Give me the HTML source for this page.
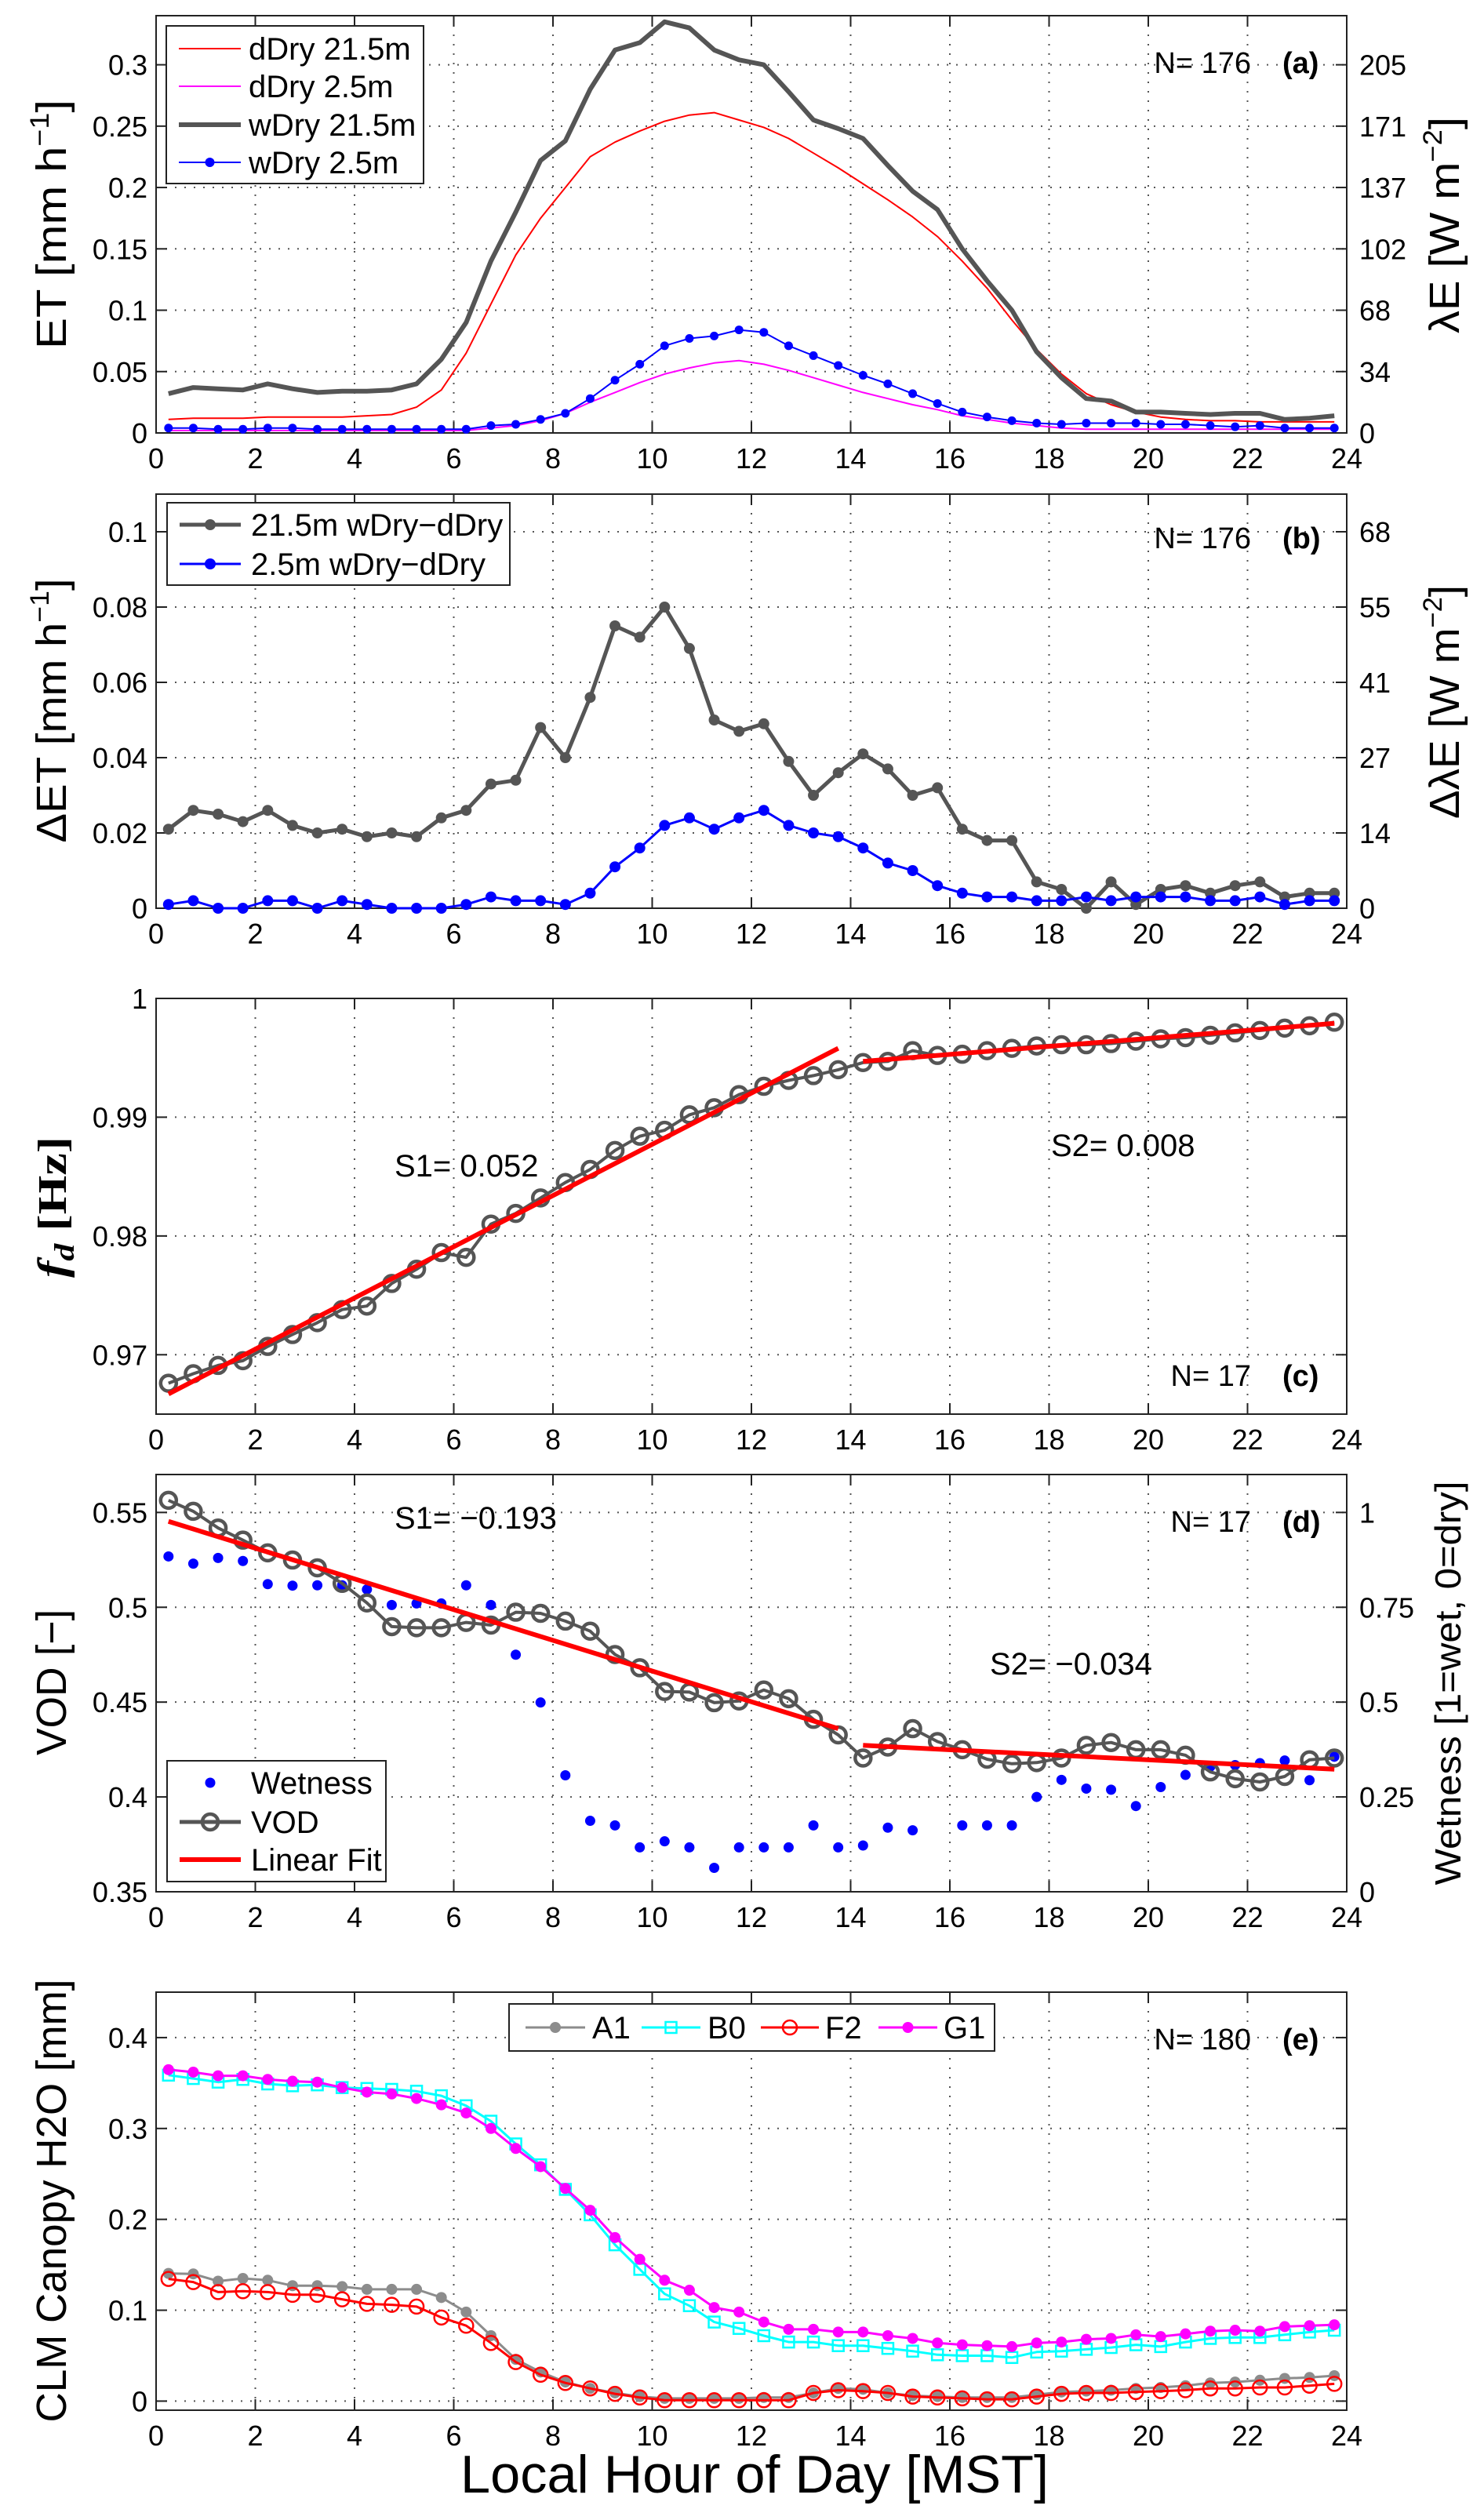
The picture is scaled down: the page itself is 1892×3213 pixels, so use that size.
<!DOCTYPE html>
<html><head><meta charset="utf-8"><title>ET / VOD diurnal panels</title>
<style>
html,body{margin:0;padding:0;background:#fff;}
svg{display:block;font-family:"Liberation Sans",Arial,sans-serif;}
</style></head>
<body>
<svg id="fig" xmlns="http://www.w3.org/2000/svg" width="1892" height="3213" viewBox="0 0 1892 3213">
<rect x="0" y="0" width="1892" height="3213" fill="#fff"/>
<g id="plots"></g>

<!-- Axis titles -->
<text transform="translate(84,286) rotate(-90)" text-anchor="middle" font-size="54" textLength="318" lengthAdjust="spacingAndGlyphs">ET  [mm h<tspan font-size="34" dy="-22">−1</tspan><tspan dy="22">]</tspan></text>
<text transform="translate(1860,287) rotate(-90)" text-anchor="middle" font-size="54" textLength="276" lengthAdjust="spacingAndGlyphs">λE  [W m<tspan font-size="34" dy="-22">−2</tspan><tspan dy="22">]</tspan></text>
<text transform="translate(84,906) rotate(-90)" text-anchor="middle" font-size="54" textLength="337" lengthAdjust="spacingAndGlyphs">ΔET  [mm h<tspan font-size="34" dy="-22">−1</tspan><tspan dy="22">]</tspan></text>
<text transform="translate(1860,895) rotate(-90)" text-anchor="middle" font-size="54" textLength="298" lengthAdjust="spacingAndGlyphs">ΔλE [W m<tspan font-size="34" dy="-22">−2</tspan><tspan dy="22">]</tspan></text>
<text transform="translate(84,1539) rotate(-90)" text-anchor="middle" font-size="52" font-family="'Liberation Serif',serif" font-weight="bold" textLength="180" lengthAdjust="spacingAndGlyphs"><tspan font-style="italic">f</tspan><tspan font-style="italic" font-size="36" dy="10">d</tspan><tspan dy="-10">  [Hz]</tspan></text>
<text transform="translate(84,2145) rotate(-90)" text-anchor="middle" font-size="54" textLength="186" lengthAdjust="spacingAndGlyphs">VOD [−]</text>
<text transform="translate(1862,2146) rotate(-90)" text-anchor="middle" font-size="46" textLength="515" lengthAdjust="spacingAndGlyphs">Wetness  [1=wet, 0=dry]</text>
<text transform="translate(84,2806) rotate(-90)" text-anchor="middle" font-size="54" textLength="565" lengthAdjust="spacingAndGlyphs">CLM Canopy H2O [mm]</text>
<text x="962" y="3178" text-anchor="middle" font-size="68" textLength="750" lengthAdjust="spacingAndGlyphs">Local Hour of Day  [MST]</text>

<!-- Annotations -->
<text x="1595" y="93" text-anchor="end" font-size="38">N= 176</text>
<text x="1635" y="93" font-size="38" font-weight="bold">(a)</text>
<text x="1595" y="699" text-anchor="end" font-size="38">N= 176</text>
<text x="1635" y="699" font-size="38" font-weight="bold">(b)</text>
<text x="1595" y="1767" text-anchor="end" font-size="38">N= 17</text>
<text x="1635" y="1767" font-size="38" font-weight="bold">(c)</text>
<text x="1595" y="1953" text-anchor="end" font-size="38">N= 17</text>
<text x="1635" y="1953" font-size="38" font-weight="bold">(d)</text>
<text x="1595" y="2613" text-anchor="end" font-size="38">N= 180</text>
<text x="1635" y="2613" font-size="38" font-weight="bold">(e)</text>
<text x="503" y="1500" font-size="40">S1= 0.052</text>
<text x="1340" y="1474" font-size="40">S2= 0.008</text>
<text x="503" y="1949" font-size="40">S1= −0.193</text>
<text x="1262" y="2135" font-size="40">S2= −0.034</text>
<g id="legends"></g>
</svg>
<script>
// ---- shared categories ----
const HOURS = [0.25,0.75,1.25,1.75,2.25,2.75,3.25,3.75,4.25,4.75,5.25,5.75,6.25,6.75,7.25,7.75,8.25,8.75,9.25,9.75,10.25,10.75,11.25,11.75,12.25,12.75,13.25,13.75,14.25,14.75,15.25,15.75,16.25,16.75,17.25,17.75,18.25,18.75,19.25,19.75,20.25,20.75,21.25,21.75,22.25,22.75,23.25,23.75];
const X_TICKS = [0,2,4,6,8,10,12,14,16,18,20,22,24];
const X_TICK_LABELS = ['0','2','4','6','8','10','12','14','16','18','20','22','24'];

// ---- panel (a) ----
const A_DDRY215 = [0.011,0.012,0.012,0.012,0.013,0.013,0.013,0.013,0.014,0.015,0.021,0.035,0.065,0.105,0.145,0.175,0.200,0.225,0.237,0.246,0.254,0.259,0.261,0.255,0.249,0.240,0.228,0.216,0.203,0.190,0.176,0.160,0.140,0.118,0.092,0.068,0.048,0.032,0.023,0.017,0.013,0.011,0.010,0.010,0.009,0.009,0.009,0.009];
const A_DDRY25 = [0.002,0.002,0.002,0.002,0.002,0.002,0.002,0.002,0.002,0.002,0.002,0.002,0.002,0.004,0.006,0.010,0.016,0.025,0.033,0.041,0.048,0.053,0.057,0.059,0.056,0.051,0.045,0.039,0.033,0.028,0.023,0.019,0.014,0.011,0.008,0.006,0.004,0.003,0.003,0.003,0.003,0.003,0.003,0.003,0.003,0.003,0.003,0.003];
const A_WDRY215 = [0.032,0.037,0.036,0.035,0.040,0.036,0.033,0.034,0.034,0.035,0.040,0.060,0.090,0.140,0.180,0.222,0.238,0.280,0.312,0.318,0.335,0.330,0.312,0.304,0.300,0.278,0.255,0.248,0.240,0.218,0.197,0.182,0.150,0.124,0.100,0.066,0.045,0.028,0.026,0.017,0.017,0.016,0.015,0.016,0.016,0.011,0.012,0.014];
const A_WDRY25 = [0.004,0.004,0.003,0.003,0.004,0.004,0.003,0.003,0.003,0.003,0.003,0.003,0.003,0.006,0.007,0.011,0.016,0.028,0.043,0.056,0.071,0.077,0.079,0.084,0.082,0.071,0.063,0.055,0.047,0.040,0.032,0.024,0.017,0.013,0.010,0.008,0.007,0.008,0.008,0.008,0.007,0.007,0.006,0.005,0.006,0.004,0.004,0.004];
const A_Y_TICKS = [0,0.05,0.1,0.15,0.2,0.25,0.3];
const A_Y_LABELS = ['0','0.05','0.1','0.15','0.2','0.25','0.3'];
const A_Y2_LABELS = ['0','34','68','102','137','171','205'];

// ---- panel (b) ----
const B_DIFF215 = [0.021,0.026,0.025,0.023,0.026,0.022,0.020,0.021,0.019,0.020,0.019,0.024,0.026,0.033,0.034,0.048,0.040,0.056,0.075,0.072,0.080,0.069,0.050,0.047,0.049,0.039,0.030,0.036,0.041,0.037,0.030,0.032,0.021,0.018,0.018,0.007,0.005,0.000,0.007,0.001,0.005,0.006,0.004,0.006,0.007,0.003,0.004,0.004];
const B_DIFF25 = [0.001,0.002,0.000,0.000,0.002,0.002,0.000,0.002,0.001,0.000,0.000,0.000,0.001,0.003,0.002,0.002,0.001,0.004,0.011,0.016,0.022,0.024,0.021,0.024,0.026,0.022,0.020,0.019,0.016,0.012,0.010,0.006,0.004,0.003,0.003,0.002,0.002,0.003,0.002,0.003,0.003,0.003,0.002,0.002,0.003,0.001,0.002,0.002];
const B_Y_TICKS = [0,0.02,0.04,0.06,0.08,0.1];
const B_Y_LABELS = ['0','0.02','0.04','0.06','0.08','0.1'];
const B_Y2_LABELS = ['0','14','27','41','55','68'];

// ---- panel (c) ----
const C_FD = [0.9676,0.9684,0.9691,0.9695,0.9707,0.9717,0.9727,0.9738,0.9741,0.9760,0.9772,0.9786,0.9782,0.9810,0.9819,0.9832,0.9845,0.9856,0.9872,0.9884,0.9889,0.9902,0.9908,0.9919,0.9926,0.9931,0.9935,0.9940,0.9946,0.9947,0.9956,0.9952,0.9953,0.9956,0.9958,0.9960,0.9961,0.9961,0.9962,0.9964,0.9966,0.9967,0.9969,0.9971,0.9973,0.9975,0.9977,0.9980];
const C_FIT1_X = [0.25,13.75];
const C_FIT1_Y = [0.9667,0.9958];
const C_FIT2_X = [14.25,23.75];
const C_FIT2_Y = [0.9947,0.9979];
const C_Y_TICKS = [0.97,0.98,0.99,1];
const C_Y_LABELS = ['0.97','0.98','0.99','1'];

// ---- panel (d) ----
const D_VOD = [0.5564,0.5506,0.5418,0.5354,0.5287,0.5249,0.5208,0.5126,0.5023,0.4898,0.4892,0.4892,0.4920,0.4906,0.4974,0.4968,0.4927,0.4874,0.4751,0.4681,0.4556,0.4553,0.4497,0.4506,0.4564,0.4518,0.4409,0.4327,0.4205,0.4263,0.4360,0.4292,0.4249,0.4199,0.4175,0.4181,0.4205,0.4272,0.4287,0.4249,0.4249,0.4220,0.4132,0.4096,0.4079,0.4108,0.4196,0.4205];
const D_WET = [0.884,0.865,0.880,0.872,0.811,0.807,0.808,0.808,0.797,0.756,0.760,0.760,0.808,0.756,0.625,0.499,0.307,0.187,0.175,0.117,0.133,0.117,0.063,0.117,0.117,0.117,0.175,0.117,0.122,0.169,0.162,null,0.175,0.175,0.175,0.250,0.295,0.272,0.269,0.226,0.276,0.308,0.330,0.334,0.339,0.346,0.294,0.356];
const D_FIT1_X = [0.25,13.75];
const D_FIT1_Y = [0.5453,0.4360];
const D_FIT2_X = [14.25,23.75];
const D_FIT2_Y = [0.4272,0.4146];
const D_Y_TICKS = [0.35,0.4,0.45,0.5,0.55];
const D_Y_LABELS = ['0.35','0.4','0.45','0.5','0.55'];
const D_Y2_TICKS = [0,0.25,0.5,0.75,1];
const D_Y2_LABELS = ['0','0.25','0.5','0.75','1'];

// ---- panel (e) ----
const E_A1 = [0.1405,0.140,0.132,0.135,0.133,0.127,0.127,0.126,0.123,0.123,0.123,0.114,0.098,0.072,0.046,0.032,0.021,0.014,0.009,0.005,0.003,0.003,0.003,0.003,0.004,0.004,0.009,0.014,0.013,0.009,0.006,0.005,0.004,0.004,0.004,0.007,0.010,0.011,0.012,0.014,0.015,0.017,0.020,0.021,0.023,0.025,0.026,0.028];
const E_B0 = [0.3587,0.355,0.351,0.354,0.349,0.347,0.348,0.345,0.344,0.343,0.341,0.336,0.325,0.308,0.283,0.260,0.233,0.205,0.172,0.145,0.118,0.105,0.087,0.080,0.072,0.065,0.065,0.061,0.061,0.058,0.055,0.051,0.050,0.050,0.048,0.054,0.055,0.057,0.059,0.062,0.060,0.065,0.069,0.070,0.070,0.073,0.076,0.078];
const E_F2 = [0.1345,0.131,0.120,0.121,0.120,0.117,0.117,0.112,0.107,0.106,0.104,0.092,0.083,0.064,0.043,0.029,0.020,0.014,0.008,0.004,0.001,0.001,0.001,0.001,0.001,0.001,0.009,0.012,0.011,0.009,0.005,0.004,0.003,0.002,0.002,0.005,0.008,0.009,0.009,0.010,0.011,0.012,0.014,0.014,0.015,0.015,0.017,0.019];
const E_G1 = [0.3647,0.362,0.358,0.358,0.354,0.352,0.351,0.345,0.340,0.338,0.333,0.326,0.317,0.300,0.278,0.258,0.234,0.210,0.180,0.156,0.133,0.122,0.103,0.098,0.087,0.079,0.079,0.076,0.076,0.072,0.069,0.064,0.062,0.061,0.060,0.064,0.065,0.068,0.069,0.073,0.071,0.074,0.077,0.078,0.077,0.082,0.083,0.084];
const E_Y_TICKS = [0,0.1,0.2,0.3,0.4];
const E_Y_LABELS = ['0','0.1','0.2','0.3','0.4'];

// ---------------- drawing ----------------
const NS = 'http://www.w3.org/2000/svg';
const plots = document.getElementById('plots');
const legends = document.getElementById('legends');
const X0 = 199, X1 = 1717;
function xScale(h){ return X0 + (h/24)*(X1-X0); }
function mk(tag, name, attrs, parent){
  const e = document.createElementNS(NS, tag);
  
  
  for (const k in attrs) e.setAttribute(k, attrs[k]);
  (parent||plots).appendChild(e);
  return e;
}
function makePanel(id, top, bot, min, max){
  const g = mk('g', 'panel-'+id, {});
  const y = v => bot - (v-min)/(max-min)*(bot-top);
  return {id, top, bot, min, max, y, g};
}
function axes(p, yTicks, yLabels, y2Ticks, y2Labels, y2Scale){
  const g = p.g;
  X_TICKS.forEach((t,i)=>{
    if (i===0 || i===X_TICKS.length-1) return;
    mk('line','x-grid-'+p.id,{x1:xScale(t),x2:xScale(t),y1:p.top,y2:p.bot,stroke:'#555','stroke-width':2,'stroke-dasharray':'2 10'},g);
  });
  yTicks.forEach(t=>{
    const yy = p.y(t);
    if (Math.abs(yy-p.top)<2 || Math.abs(yy-p.bot)<2) return;
    mk('line','y-grid-'+p.id,{x1:X0,x2:X1,y1:yy,y2:yy,stroke:'#555','stroke-width':2,'stroke-dasharray':'2 10'},g);
  });
  X_TICKS.forEach((t,i)=>{
    const xx = xScale(t);
    mk('line','x-tick-'+p.id,{x1:xx,x2:xx,y1:p.bot,y2:p.bot-14,stroke:'#222','stroke-width':2},g);
    mk('line','x-tick-top-'+p.id,{x1:xx,x2:xx,y1:p.top,y2:p.top+14,stroke:'#222','stroke-width':2},g);
    const tx = mk('text','x-tick-label-'+p.id,{x:xx,y:p.bot+45,'text-anchor':'middle','font-size':36},g);
    tx.textContent = X_TICK_LABELS[i];
  });
  yTicks.forEach((t,i)=>{
    const yy = p.y(t);
    mk('line','y-tick-'+p.id,{x1:X0,x2:X0+14,y1:yy,y2:yy,stroke:'#222','stroke-width':2},g);
    if (!y2Ticks) mk('line','y-tick-right-'+p.id,{x1:X1,x2:X1-14,y1:yy,y2:yy,stroke:'#222','stroke-width':2},g);
    const tx = mk('text','y-tick-label-'+p.id,{x:188,y:yy+13,'text-anchor':'end','font-size':36},g);
    tx.textContent = yLabels[i];
  });
  if (y2Ticks){
    y2Ticks.forEach((t,i)=>{
      const yy = y2Scale(t);
      mk('line','y2-tick-'+p.id,{x1:X1,x2:X1-14,y1:yy,y2:yy,stroke:'#222','stroke-width':2},g);
      const tx = mk('text','y2-tick-label-'+p.id,{x:1733,y:yy+13,'font-size':36},g);
      tx.textContent = y2Labels[i];
    });
  }
  mk('rect','axes-box-'+p.id,{x:X0,y:p.top,width:X1-X0,height:p.bot-p.top,fill:'none',stroke:'#222','stroke-width':2},g);
}
function series(p, xs, vals, yfn, name, opt){
  const pts = [];
  let d = '';
  vals.forEach((v,i)=>{
    if (v===null || v===undefined){ return; }
    const px = xScale(xs[i]), py = yfn(v);
    d += (d===''?'M':'L') + px.toFixed(1)+','+py.toFixed(1);
    pts.push([px,py]);
  });
  if (opt.line) mk('path', name+'-line', {d, fill:'none', stroke:opt.color, 'stroke-width':opt.lw, 'stroke-linejoin':'round'}, p.g);
  pts.forEach(([px,py])=>{
    if (opt.marker==='dot'){
      mk('circle', name+'-point', {cx:px, cy:py, r:opt.r, fill:opt.mcolor||opt.color}, p.g);
    } else if (opt.marker==='ring'){
      mk('circle', name+'-point', {cx:px, cy:py, r:opt.r, fill:'none', stroke:opt.mcolor||opt.color, 'stroke-width':opt.mw}, p.g);
    } else if (opt.marker==='square'){
      mk('rect', name+'-point', {x:px-opt.r, y:py-opt.r, width:2*opt.r, height:2*opt.r, fill:'none', stroke:opt.color, 'stroke-width':opt.mw}, p.g);
    }
  });
}
function legendBox(x,y,w,h,name){
  mk('rect', name, {x,y,width:w,height:h,fill:'#fff',stroke:'#222','stroke-width':2}, legends);
}
function legendEntry(x1,x2,y,tx,label,name,opt){
  mk('line', name+'-swatch', {x1,x2,y1:y,y2:y,stroke:opt.color,'stroke-width':opt.lw}, legends);
  const mx=(x1+x2)/2;
  if (opt.marker==='dot') mk('circle', name+'-marker', {cx:mx,cy:y,r:opt.r,fill:opt.color}, legends);
  if (opt.marker==='ring') mk('circle', name+'-marker', {cx:mx,cy:y,r:opt.r,fill:'none',stroke:opt.color,'stroke-width':opt.mw}, legends);
  if (opt.marker==='square') mk('rect', name+'-marker', {x:mx-opt.r,y:y-opt.r,width:2*opt.r,height:2*opt.r,fill:'none',stroke:opt.color,'stroke-width':opt.mw}, legends);
  const t = mk('text', name+'-label', {x:tx,y:y+14,'font-size':40}, legends);
  t.textContent = label;
}

// Panel a
const pa = makePanel('a', 20, 552, 0, 0.34);
axes(pa, A_Y_TICKS, A_Y_LABELS, A_Y_TICKS, A_Y2_LABELS, pa.y);
series(pa, HOURS, A_DDRY215, pa.y, 'ddry-21-5m', {line:true, color:'#ff0000', lw:2});
series(pa, HOURS, A_DDRY25, pa.y, 'ddry-2-5m', {line:true, color:'#ff00ff', lw:2});
series(pa, HOURS, A_WDRY215, pa.y, 'wdry-21-5m', {line:true, color:'#555555', lw:6});
series(pa, HOURS, A_WDRY25, pa.y, 'wdry-2-5m', {line:true, color:'#0000ff', lw:2, marker:'dot', r:5.5});
legendBox(212,33,328,201,'legend-a');
legendEntry(228,307,62,317,'dDry 21.5m','legend-entry-ddry-21-5m',{color:'#ff0000',lw:2});
legendEntry(228,307,110,317,'dDry 2.5m','legend-entry-ddry-2-5m',{color:'#ff00ff',lw:2});
legendEntry(228,307,159,317,'wDry 21.5m','legend-entry-wdry-21-5m',{color:'#555555',lw:6});
legendEntry(228,307,207,317,'wDry 2.5m','legend-entry-wdry-2-5m',{color:'#0000ff',lw:2,marker:'dot',r:6});

// Panel b
const pb = makePanel('b', 630, 1158, 0, 0.11);
axes(pb, B_Y_TICKS, B_Y_LABELS, B_Y_TICKS, B_Y2_LABELS, pb.y);
series(pb, HOURS, B_DIFF215, pb.y, 'diff-21-5m', {line:true, color:'#555555', lw:5, marker:'dot', r:7});
series(pb, HOURS, B_DIFF25, pb.y, 'diff-2-5m', {line:true, color:'#0000ff', lw:3, marker:'dot', r:7});
legendBox(213,641,437,105,'legend-b');
legendEntry(229,307,669,320,'21.5m wDry−dDry','legend-entry-diff-21-5m',{color:'#555555',lw:5,marker:'dot',r:7});
legendEntry(229,307,719,320,'2.5m wDry−dDry','legend-entry-diff-2-5m',{color:'#0000ff',lw:3,marker:'dot',r:7});

// Panel c
const pc = makePanel('c', 1273, 1803, 0.965, 1.0);
axes(pc, C_Y_TICKS, C_Y_LABELS, null, null, null);
series(pc, HOURS, C_FD, pc.y, 'fd', {line:true, color:'#555555', lw:4, marker:'ring', r:10, mw:4.5});
series(pc, C_FIT1_X, C_FIT1_Y, pc.y, 'fd-fit-1', {line:true, color:'#ff0000', lw:6});
series(pc, C_FIT2_X, C_FIT2_Y, pc.y, 'fd-fit-2', {line:true, color:'#ff0000', lw:6});

// Panel d
const pd = makePanel('d', 1880, 2412, 0.35, 0.57);
const wetY = v => pd.bot - (v/1.1)*(pd.bot-pd.top);
axes(pd, D_Y_TICKS, D_Y_LABELS, D_Y2_TICKS, D_Y2_LABELS, wetY);
series(pd, HOURS, D_WET, wetY, 'wetness', {line:false, color:'#0000ff', marker:'dot', r:6.5});
series(pd, HOURS, D_VOD, pd.y, 'vod', {line:true, color:'#555555', lw:4, marker:'ring', r:10, mw:4.5});
series(pd, D_FIT1_X, D_FIT1_Y, pd.y, 'vod-fit-1', {line:true, color:'#ff0000', lw:6});
series(pd, D_FIT2_X, D_FIT2_Y, pd.y, 'vod-fit-2', {line:true, color:'#ff0000', lw:6});
legendBox(213,2245,279,154,'legend-d');
mk('circle','legend-entry-wetness-marker',{cx:268,cy:2273,r:6.5,fill:'#0000ff'},legends);
const wl = mk('text','legend-entry-wetness-label',{x:320,y:2287,'font-size':40},legends);
wl.textContent = 'Wetness';
legendEntry(229,307,2323,320,'VOD','legend-entry-vod',{color:'#555555',lw:5,marker:'ring',r:10,mw:4.5});
legendEntry(229,307,2371,320,'Linear Fit','legend-entry-linear-fit',{color:'#ff0000',lw:6});

// Panel e
const pe = makePanel('e', 2540, 3073, -0.01, 0.45);
axes(pe, E_Y_TICKS, E_Y_LABELS, null, null, null);
series(pe, HOURS, E_A1, pe.y, 'a1', {line:true, color:'#8c8c8c', lw:3, marker:'dot', r:7});
series(pe, HOURS, E_B0, pe.y, 'b0', {line:true, color:'#00ffff', lw:3, marker:'square', r:7, mw:2.5});
series(pe, HOURS, E_F2, pe.y, 'f2', {line:true, color:'#ff0000', lw:3, marker:'ring', r:9, mw:2.5});
series(pe, HOURS, E_G1, pe.y, 'g1', {line:true, color:'#ff00ff', lw:3, marker:'dot', r:7});
legendBox(649,2555,619,60,'legend-e');
legendEntry(670,746,2585,755,'A1','legend-entry-a1',{color:'#8c8c8c',lw:3,marker:'dot',r:7});
legendEntry(818,893,2585,902,'B0','legend-entry-b0',{color:'#00ffff',lw:3,marker:'square',r:7,mw:2.5});
legendEntry(970,1044,2585,1052,'F2','legend-entry-f2',{color:'#ff0000',lw:3,marker:'ring',r:9,mw:2.5});
legendEntry(1120,1195,2585,1203,'G1','legend-entry-g1',{color:'#ff00ff',lw:3,marker:'dot',r:7});
</script>
</body></html>
